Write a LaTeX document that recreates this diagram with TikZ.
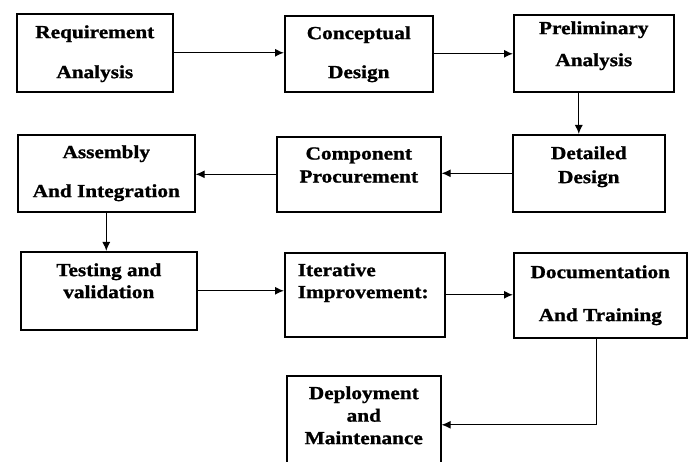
\documentclass[tikz,border=0pt]{standalone}
\usepackage{fontspec}
\setmainfont[FakeStretch=1.15,BoldFeatures={FakeBold=1.2}]{Liberation Serif}
\usetikzlibrary{arrows.meta}

\tikzset{
  stage/.style={draw, line width=1.6pt, inner sep=0pt, anchor=north west,
    font=\bfseries\fontsize{18.5}{22}\selectfont},
  flow/.style={line width=1.2pt, -{Latex[length=9pt,width=8pt]}}
}
% box text: width, height, top gap, lines
\newcommand{\stagetext}[4]{\parbox[c][#2][t]{#1}{\centering\vspace*{#3}#4}}

\begin{document}
\begin{tikzpicture}[x=1pt,y=-1pt]
  \clip (0,0) rectangle (694,462);

  % First row
  \node[stage] (req) at (16,13) {\stagetext{156pt}{78pt}{11.5pt}{Requirement\\[18pt]Analysis}};
  \node[stage] (con) at (284,15) {\stagetext{148pt}{76pt}{10.5pt}{Conceptual\\[17pt]Design}};
  \node[stage] (pre) at (513,14) {\stagetext{160pt}{77pt}{6.5pt}{Preliminary\\[10pt]Analysis}};

  % Second row
  \node[stage] (asm) at (17,134) {\stagetext{177pt}{77pt}{10.5pt}{Assembly\\[17pt]And Integration}};
  \node[stage] (com) at (276,136) {\stagetext{164pt}{75pt}{10.5pt}{Component\\[1pt]Procurement}};
  \node[stage] (det) at (512,134) {\stagetext{152pt}{77pt}{11.5pt}{Detailed\\[2pt]Design}};

  % Third row
  \node[stage] (tst) at (20,251) {\stagetext{176pt}{78pt}{11.5pt}{Testing and\\validation}};
  \node[stage] (itr) at (284,252) {\parbox[c][84pt][t]{160pt}{\raggedright\leftskip=13pt
      \vspace*{10.5pt}Iterative\\Improvement:}};
  \node[stage] (doc) at (513,252) {\stagetext{173pt}{85pt}{12.5pt}{Documentation\\[21pt]And Training}};

  % Last box
  \node[stage] (dep) at (286,375) {\stagetext{154pt}{98pt}{10.5pt}{Deployment\\[0.5pt]and\\[0.5pt]Maintenance}};

  % Arrows to the right
  \foreach \a/\b in {req/con, con/pre, tst/itr, itr/doc}
    \draw[flow] (\a.east) -- (\a.east -| \b.west);

  % Arrows to the left
  \foreach \a/\b in {det/com, com/asm}
    \draw[flow] (\a.west) -- (\a.west -| \b.east);

  % Arrows down
  \draw[flow] ([xshift=-15pt]pre.south) -- ([xshift=-15pt]pre.south |- det.north);
  \draw[flow] (asm.south) -- (asm.south |- tst.north);
  \draw[flow] ([xshift=-4pt]doc.south) |- (dep.east);
\end{tikzpicture}
\end{document}
